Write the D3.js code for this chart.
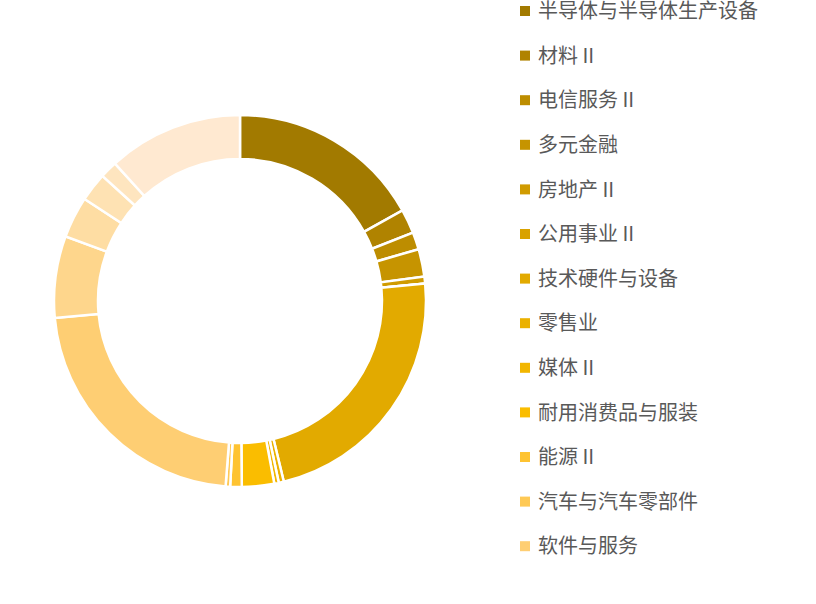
<!DOCTYPE html>
<html>
<head>
<meta charset="utf-8">
<script src="https://cdn.jsdelivr.net/npm/d3@7"></script>
<style>
  html, body { margin: 0; padding: 0; background: #fff; }
</style>
</head>
<body>
<div id="chart"></div>
<script>
// industry names shown in the legend (only the first 13 are visible in the original)
const categories = [
  "半导体与半导体生产设备", "材料 II", "电信服务 II", "多元金融", "房地产 II",
  "公用事业 II", "技术硬件与设备", "零售业", "媒体 II", "耐用消费品与服装",
  "能源 II", "汽车与汽车零部件", "软件与服务",
  "", "", "", "", ""
];

// share of each slice, %
const shares = [
  16.9, 2.1, 1.5, 2.4, 0.6,
  0, 22.7, 0.44, 0.39, 2.8,
  1.0, 0.39, 22.3,
  7.1, 3.6, 2.5, 1.5, 11.75
];

const colors = [
  "#a27a00", "#b08300", "#bd8d00", "#c69400", "#d09b00",
  "#d9a200", "#e2aa00", "#ebb100", "#f2b600", "#fabd00",
  "#fec331", "#fec955", "#fece73",
  "#fed68c", "#fedda3", "#fee2b3", "#fee5bf", "#ffe9d1"
];

const WIDTH = 816, HEIGHT = 604;
const CX = 240, CY = 301;
const OUTER = 186, INNER = 142;
const LEGEND_COUNT = 13;

const data = categories.map((c, i) => ({ name: c, value: shares[i], color: colors[i] }));

const svg = d3.select("#chart")
  .append("svg")
  .attr("width", WIDTH)
  .attr("height", HEIGHT);

const g = svg.append("g").attr("transform", `translate(${CX}, ${CY})`);

const pie = d3.pie()
  .value((d) => d.value)
  .sort(null);

const arc = d3.arc()
  .innerRadius(INNER)
  .outerRadius(OUTER);

g.selectAll("path")
  .data(pie(data))
  .enter()
  .append("path")
  .attr("d", arc)
  .attr("fill", (d) => d.data.color)
  .attr("stroke", "#fff")
  .attr("stroke-width", 2.5)
  .attr("stroke-linejoin", "miter");

// legend
const legend = svg.append("g").attr("transform", "translate(520, 11)");

const items = legend.selectAll(".legend")
  .data(data.slice(0, LEGEND_COUNT))
  .enter()
  .append("g")
  .attr("class", "legend")
  .attr("transform", (d, i) => `translate(0, ${i * 44.6})`);

items.append("rect")
  .attr("x", 0)
  .attr("y", -5)
  .attr("width", 10)
  .attr("height", 10)
  .attr("fill", (d) => d.color);

items.append("text")
  .attr("x", 18)
  .attr("y", 0)
  .attr("dy", "0.36em")
  .attr("font-family", "'Noto Sans CJK SC', 'Noto Sans', sans-serif")
  .attr("font-size", "20px")
  .attr("fill", "#595959")
  .text((d) => d.name);
</script>
</body>
</html>
